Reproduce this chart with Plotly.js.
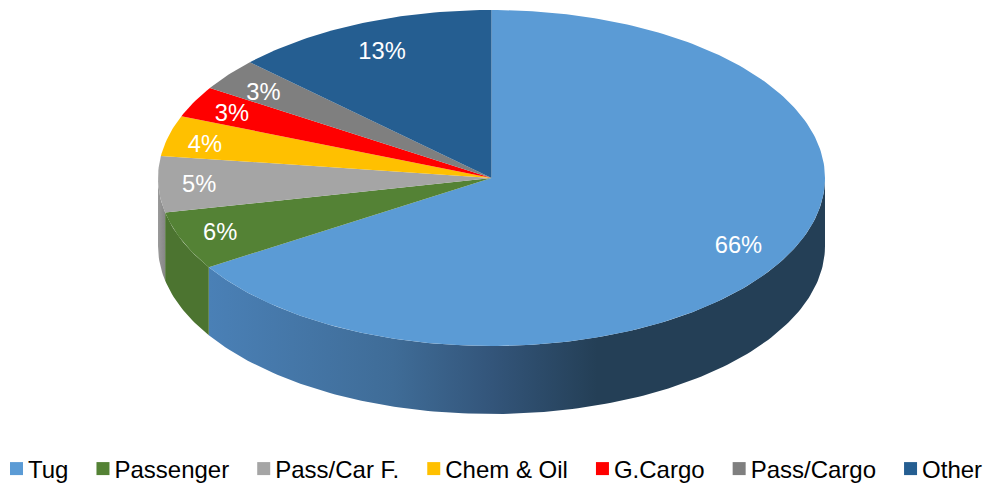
<!DOCTYPE html>
<html>
<head>
<meta charset="utf-8">
<script src="https://cdn.plot.ly/plotly-3.0.1.min.js"></script>
<style>html,body{margin:0;padding:0;background:#fff}#chart{width:984px;height:483px}</style>
</head>
<body>
<div id="chart"></div>
<script>
// Data
const categories = ['Tug', 'Passenger', 'Pass/Car F.', 'Chem & Oil', 'G.Cargo', 'Pass/Cargo', 'Other'];
const shares = [66.1, 5.6, 5.4, 3.9, 3.0, 3.1, 12.9];
const colors = ['#5b9bd5', '#548235', '#a5a5a5', '#ffc000', '#ff0000', '#7f7f7f', '#255e91'];
const wallColors = ['#4a80b6', '#4c7430', '#8f8f8f', '#bf9000', '#bf0000', '#5f5f5f', '#1c466d'];
const labelRadius = [0.85, 0.874, 0.874, 0.885, 0.87, 0.864, 0.825];
const labelDrop = [0, 1, 3, 6, 3, 5, 2];

// Pie geometry in axis units (one unit = one pixel)
const RX = 333.5, RY = 168, DEPTH = 68;
const LABEL_SHIFT = -1;
const rad = d => d * Math.PI / 180;
const px = a => RX * Math.sin(rad(a));
const py = a => RY * Math.cos(rad(a));
function arc(a1, a2) {
  const out = [];
  const n = Math.max(2, Math.ceil(Math.abs(a2 - a1)));
  for (let i = 0; i <= n; i++) out.push(a1 + (a2 - a1) * i / n);
  return out;
}

const total = shares.reduce((s, v) => s + v, 0);
let acc = 0;
const spans = shares.map(v => {
  const a1 = acc / total * 360; acc += v;
  return [a1, acc / total * 360];
});

const traces = [];

// Side walls (front half of the rim only)
spans.forEach(([a1, a2], i) => {
  const s = Math.max(a1, 90), e = Math.min(a2, 270);
  if (e <= s) return;
  const top = arc(s, e), bot = arc(e, s);
  const t = {
    type: 'scatter', mode: 'lines', hoverinfo: 'skip', showlegend: false,
    x: top.map(px).concat(bot.map(px)),
    y: top.map(py).concat(bot.map(a => py(a) - DEPTH)),
    fill: 'toself', fillcolor: wallColors[i], line: {width: 0}
  };
  if (i === 0) {
    t.fillgradient = {
      type: 'horizontal',
      colorscale: [[0, '#4a80b6'], [0.3, '#3f6c97'], [0.46, '#33557a'], [0.63, '#243f56'], [1, '#243f56']]
    };
  }
  if (i === 2) {
    t.fillgradient = {type: 'horizontal', colorscale: [[0, '#9a9a9a'], [1, '#868686']]};
  }
  traces.push(t);
});

// Top face wedges
spans.forEach(([a1, a2], i) => {
  const a = arc(a1, a2);
  traces.push({
    type: 'scatter', mode: 'lines', hoverinfo: 'skip', showlegend: false,
    x: [0].concat(a.map(px), [0]),
    y: [0].concat(a.map(py), [0]),
    fill: 'toself', fillcolor: colors[i], line: {width: 0}
  });
});

// Percentage labels
traces.push({
  type: 'scatter', mode: 'text', hoverinfo: 'skip', showlegend: false,
  x: spans.map(([a1, a2], i) => px((a1 + a2) / 2) * labelRadius[i] + LABEL_SHIFT),
  y: spans.map(([a1, a2], i) => py((a1 + a2) / 2) * labelRadius[i] - labelDrop[i]),
  text: shares.map(v => Math.round(v / total * 100) + '%'),
  textposition: 'middle center',
  textfont: {family: 'Liberation Sans, Arial, sans-serif', size: 23.7, color: '#ffffff'}
});

// Legend entries
categories.forEach((name, i) => {
  traces.push({
    type: 'scatter', mode: 'markers', name: name, hoverinfo: 'skip',
    x: [null], y: [null],
    marker: {symbol: 'square', size: 13, color: colors[i]}
  });
});

const layout = {
  width: 984, height: 483,
  margin: {l: 0, r: 0, t: 0, b: 0, autoexpand: false},
  paper_bgcolor: '#ffffff', plot_bgcolor: '#ffffff',
  showlegend: true,
  legend: {
    orientation: 'h', x: 0, xanchor: 'left', y: 0.029, yanchor: 'middle',
    entrywidth: 90, entrywidthmode: 'pixels', bgcolor: 'rgba(0,0,0,0)',
    font: {family: 'Liberation Sans, Arial, sans-serif', size: 24, color: '#000000'}
  },
  xaxis: {visible: false, range: [-491.5, 492.5], fixedrange: true},
  yaxis: {visible: false, range: [-305, 178], fixedrange: true}
};

Plotly.newPlot('chart', traces, layout, {displayModeBar: false, responsive: false}).then(gd => {
  // Tighten the native legend's spacing: swatch 5px before text, constant gap between entries
  const TEXT_START = 28, ENTRY_GAP = 46;
  const box = gd.querySelector('.legend .scrollbox');
  if (box) box.removeAttribute('clip-path');
  let left = TEXT_START;
  gd.querySelectorAll('.legend .traces').forEach(item => {
    const text = item.querySelector('.legendtext');
    const pts = item.querySelector('.legendpoints');
    const textX = parseFloat(text.getAttribute('x')) || 40;
    const m = /translate\(([-\d.]+)[ ,]+([-\d.]+)\)/.exec(item.getAttribute('transform') || '');
    const y = m ? parseFloat(m[2]) : 0;
    item.setAttribute('transform', `translate(${left - textX},${y})`);
    if (pts) pts.setAttribute('transform', `translate(${textX - 5 - 6.5 - 20},0)`);
    left += text.getComputedTextLength() + ENTRY_GAP;
  });
});
</script>
</body>
</html>
